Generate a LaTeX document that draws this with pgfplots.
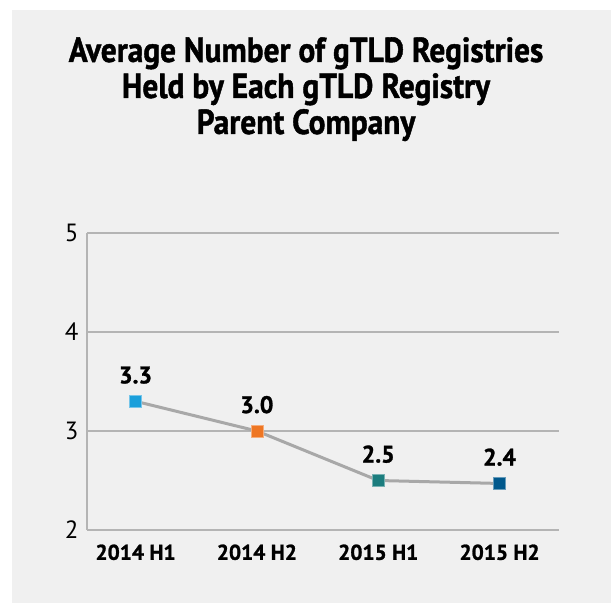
\documentclass[border=0pt]{standalone}
\usepackage{pgfplots}
\pgfplotsset{compat=1.18}
\usepackage{fontspec}
\setmainfont{PT Sans}[BoldFeatures={FakeBold=1.2}]
\newfontfamily\titlefont{PT Sans}[FakeStretch=0.9,BoldFeatures={FakeBold=1.2}]
\definecolor{bg}{HTML}{F0F0F0}
\definecolor{gridc}{HTML}{B4B4B4}
\definecolor{linec}{HTML}{A8A8A8}
\definecolor{cA}{HTML}{1A9FDB}
\definecolor{cB}{HTML}{EE7623}
\definecolor{cC}{HTML}{1C7D7E}
\definecolor{cD}{HTML}{00588C}
\begin{document}
\begin{tikzpicture}[x=1bp,y=1bp]
\path[use as bounding box,fill=white] (0,0) rectangle (611,603);
\fill[bg] (12,0) rectangle (611,593);
\node[anchor=base,font=\titlefont\fontsize{35}{37}\bfseries] at (306,541) {Average Number of gTLD Registries};
\node[anchor=base,font=\titlefont\fontsize{35}{37}\bfseries] at (306,505) {Held by Each gTLD Registry};
\node[anchor=base,font=\titlefont\fontsize{35}{37}\bfseries] at (306,469) {Parent Company};
\begin{axis}[
  at={(87bp,73bp)}, anchor=south west,
  scale only axis, width=472bp, height=297bp,
  xmin=-0.4, xmax=3.49, ymin=2, ymax=5,
  xtick={0,1,2,3},
  xticklabels={2014 H1,2014 H2,2015 H1,2015 H2},
  ytick={2,3,4,5},
  ymajorgrids,
  grid style={gridc, line width=1.5bp},
  axis x line*=bottom, axis y line*=left,
  axis line style={gridc, line width=1.5bp, -},
  major tick length=0,
  x tick label style={font=\fontsize{21.5}{23}\bfseries, yshift=-11bp},
  y tick label style={font=\fontsize{25}{27}\selectfont, xshift=-5bp},
  /pgf/number format/assume math mode=true,
  clip=false,
  nodes near coords style={font=\fontsize{24}{26}\bfseries, black, anchor=south, yshift=14bp},
]
\addplot[linec, line width=3bp, mark=none] coordinates {(0,3.3) (1,3.0) (2,2.5) (3,2.47)};
\addplot[only marks, mark=square*, mark size=6bp, mark options={fill=cA, draw=cA!60!white, line width=0.6bp}, nodes near coords={3.3}] coordinates {(0,3.3)};
\addplot[only marks, mark=square*, mark size=6bp, mark options={fill=cB, draw=cB!60!white, line width=0.6bp}, nodes near coords={3.0}] coordinates {(1,3.0)};
\addplot[only marks, mark=square*, mark size=6bp, mark options={fill=cC, draw=cC!60!white, line width=0.6bp}, nodes near coords={2.5}] coordinates {(2,2.5)};
\addplot[only marks, mark=square*, mark size=6bp, mark options={fill=cD, draw=cD!60!white, line width=0.6bp}, nodes near coords={2.4}] coordinates {(3,2.47)};
\end{axis}
\end{tikzpicture}
\end{document}
